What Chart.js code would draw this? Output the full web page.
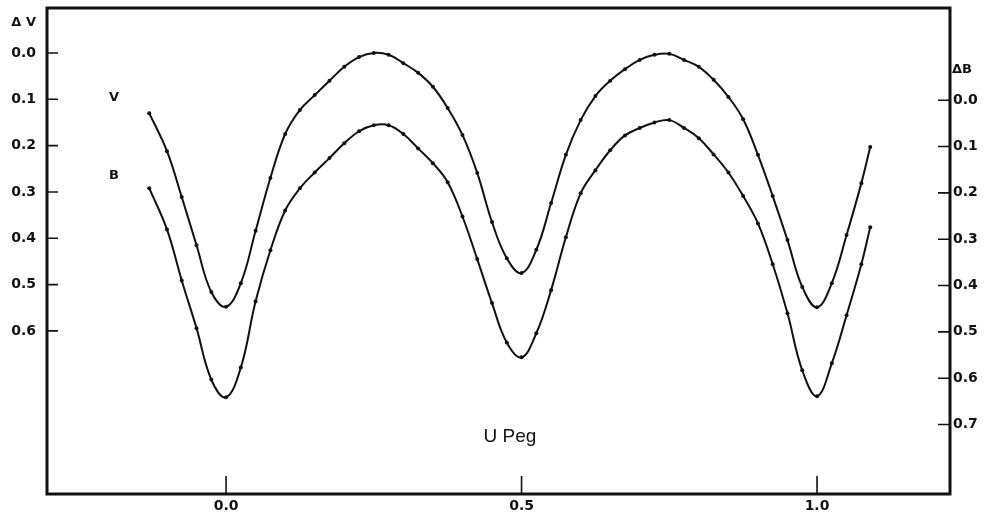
<!DOCTYPE html>
<html>
<head>
<meta charset="utf-8">
<script src="https://cdn.jsdelivr.net/npm/chart.js@4/dist/chart.umd.min.js"></script>
<style>
  html, body { margin: 0; padding: 0; background: #ffffff; }
  #wrap { width: 984px; height: 518px; position: relative; }
</style>
</head>
<body>
<div id="wrap"><canvas id="c" width="984" height="518"></canvas></div>
<script>
const phases = [-0.13, -0.1, -0.075, -0.05, -0.025, 0.0, 0.025, 0.05, 0.075, 0.1,
  0.125, 0.15, 0.175, 0.2, 0.225, 0.25, 0.275, 0.3, 0.325, 0.35,
  0.375, 0.4, 0.425, 0.45, 0.475, 0.5, 0.525, 0.55, 0.575, 0.6,
  0.625, 0.65, 0.675, 0.7, 0.725, 0.75, 0.775, 0.8, 0.825, 0.85,
  0.875, 0.9, 0.925, 0.95, 0.975, 1.0, 1.025, 1.05, 1.075, 1.09];

// V light curve (delta V, left axis)
const deltaV = [0.130, 0.212, 0.311, 0.415, 0.516, 0.548, 0.497, 0.384, 0.270, 0.175,
  0.123, 0.091, 0.060, 0.030, 0.009, 0.000, 0.004, 0.022, 0.043, 0.073,
  0.119, 0.177, 0.259, 0.365, 0.443, 0.475, 0.425, 0.324, 0.220, 0.145,
  0.093, 0.060, 0.035, 0.015, 0.004, 0.002, 0.015, 0.030, 0.058, 0.095,
  0.143, 0.220, 0.309, 0.404, 0.505, 0.549, 0.497, 0.393, 0.281, 0.203];

// B light curve (delta B, right axis)
const deltaB = [0.190, 0.279, 0.389, 0.492, 0.603, 0.641, 0.577, 0.434, 0.324, 0.238,
  0.190, 0.156, 0.125, 0.093, 0.067, 0.054, 0.054, 0.073, 0.104, 0.136,
  0.177, 0.251, 0.343, 0.438, 0.523, 0.555, 0.503, 0.410, 0.296, 0.201,
  0.151, 0.108, 0.076, 0.060, 0.048, 0.043, 0.060, 0.082, 0.117, 0.156,
  0.207, 0.266, 0.354, 0.460, 0.583, 0.639, 0.568, 0.464, 0.354, 0.274];

const xTicks = [0.0, 0.5, 1.0];
const xTickLabels = ["0.0", "0.5", "1.0"];
const vTicks = [0.0, 0.1, 0.2, 0.3, 0.4, 0.5, 0.6];
const bTicks = [0.0, 0.1, 0.2, 0.3, 0.4, 0.5, 0.6, 0.7];
const curveLabels = ["V", "B"];
const leftTitle = "\u0394 V";
const rightTitle = "\u0394B";
const starName = "U Peg";

// ---- chart ----
const INK = "#111111";
const tickFont = { family: "'DejaVu Sans', sans-serif", size: 14, weight: "bold" };

const framePlugin = {
  id: "frame",
  afterDraw(chart) {
    const ctx = chart.ctx;
    const a = chart.chartArea;
    const sx = chart.scales.x, sv = chart.scales.yV, sb = chart.scales.yB;
    ctx.save();
    ctx.strokeStyle = INK;
    ctx.lineWidth = 3;
    ctx.strokeRect(a.left, a.top, a.right - a.left, a.bottom - a.top);
    ctx.lineWidth = 1.6;
    ctx.beginPath();
    xTicks.forEach(v => {
      const px = sx.getPixelForValue(v);
      ctx.moveTo(px, a.bottom);
      ctx.lineTo(px, a.bottom - 18);
    });
    vTicks.forEach(v => {
      const py = sv.getPixelForValue(v);
      ctx.moveTo(a.left, py);
      ctx.lineTo(a.left + 11, py);
    });
    bTicks.forEach(v => {
      const py = sb.getPixelForValue(v);
      ctx.moveTo(a.right, py);
      ctx.lineTo(a.right - 12, py);
    });
    ctx.stroke();

    ctx.fillStyle = INK;
    ctx.font = "bold 13px 'DejaVu Sans', sans-serif";
    ctx.textBaseline = "middle";
    ctx.textAlign = "right";
    ctx.fillText(leftTitle, 36, 23);
    ctx.textAlign = "left";
    ctx.fillText(rightTitle, 952, 70);
    ctx.textAlign = "center";
    ctx.fillText(curveLabels[0], 114, 98);
    ctx.fillText(curveLabels[1], 114, 176);
    ctx.font = "19px 'Liberation Sans', sans-serif";
    ctx.fillText(starName, 510, 437);
    ctx.restore();
  }
};

const lineStyle = {
  borderColor: INK,
  backgroundColor: INK,
  borderWidth: 2,
  pointRadius: 2,
  pointHoverRadius: 2,
  pointBorderWidth: 0,
  fill: false,
  tension: 0.4
};

new Chart(document.getElementById("c"), {
  type: "line",
  data: {
    datasets: [
      Object.assign({ label: curveLabels[0], yAxisID: "yV",
        data: phases.map((p, i) => ({ x: p, y: deltaV[i] })) }, lineStyle),
      Object.assign({ label: curveLabels[1], yAxisID: "yB",
        data: phases.map((p, i) => ({ x: p, y: deltaB[i] })) }, lineStyle)
    ]
  },
  options: {
    responsive: false,
    animation: false,
    events: [],
    layout: { padding: { top: 8, left: 0, right: 0, bottom: 0 } },
    plugins: { legend: { display: false }, tooltip: { enabled: false } },
    scales: {
      x: {
        type: "linear",
        min: -0.303, max: 1.225,
        grid: { display: false, drawTicks: false },
        border: { display: false },
        afterBuildTicks: s => { s.ticks = xTicks.map(v => ({ value: v })); },
        afterFit: s => { s.height = 24; s.paddingLeft = 0; s.paddingRight = 0; },
        ticks: {
          color: INK, font: tickFont, padding: 4, maxRotation: 0,
          callback: (v) => xTickLabels[xTicks.indexOf(v)]
        }
      },
      yV: {
        type: "linear", position: "left", reverse: true,
        min: -0.097, max: 0.952,
        grid: { display: false, drawTicks: false },
        border: { display: false },
        afterBuildTicks: s => { s.ticks = vTicks.map(v => ({ value: v })); },
        afterFit: s => { s.width = 47; s.paddingTop = 0; s.paddingBottom = 0; },
        ticks: { color: INK, font: tickFont, padding: 11, callback: v => v.toFixed(1) }
      },
      yB: {
        type: "linear", position: "right", reverse: true,
        min: -0.199, max: 0.850,
        grid: { display: false, drawTicks: false },
        border: { display: false },
        afterBuildTicks: s => { s.ticks = bTicks.map(v => ({ value: v })); },
        afterFit: s => { s.width = 34; s.paddingTop = 0; s.paddingBottom = 0; },
        ticks: { color: INK, font: tickFont, padding: 3, callback: v => v.toFixed(1) }
      }
    }
  },
  plugins: [framePlugin]
});
</script>
</body>
</html>
